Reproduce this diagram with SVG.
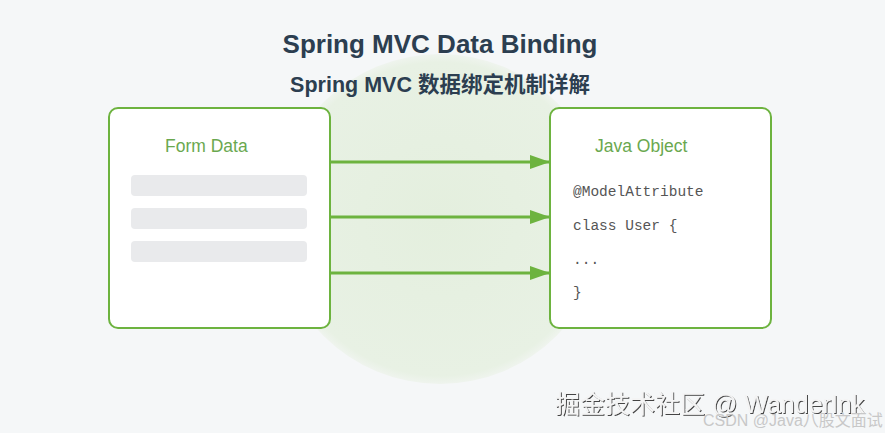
<svg xmlns="http://www.w3.org/2000/svg" width="885" height="433" viewBox="0 0 885 433">
<defs>
<radialGradient id="glow" cx="0.5" cy="0.5" r="0.5">
<stop offset="0" stop-color="#e4efde"/>
<stop offset="0.95" stop-color="#e8f1e4"/>
<stop offset="1" stop-color="#eff4ee"/>
</radialGradient>
<marker id="arrow" viewBox="0 0 20 14" refX="20" refY="7" markerWidth="20" markerHeight="14" markerUnits="userSpaceOnUse" orient="auto">
<path d="M0,0 L20,7 L0,14 Z" fill="#6db33f"/>
</marker>
<filter id="shadow" x="-5%" y="-20%" width="110%" height="140%">
<feDropShadow dx="1" dy="1" stdDeviation="0.6" flood-color="#333" flood-opacity="0.9"/>
</filter>
</defs>
<style>
.title{font-family:"Liberation Sans",Arial,"Noto Sans CJK SC",sans-serif;font-weight:bold;fill:#2c3e50;text-anchor:middle}
.box{fill:#ffffff;stroke:#6db33f;stroke-width:2}
.label{font-family:"Liberation Sans",Arial,sans-serif;font-size:17.5px;fill:#6aa84f}
.bar{fill:#e9eaec}
.code{font-family:"Liberation Mono","Courier New",monospace;font-size:14.5px;fill:#555}
.conn{stroke:#6db33f;stroke-width:3;fill:none}
</style>
<rect width="885" height="433" fill="#f5f7f8"/>
<circle cx="440" cy="219" r="165" fill="url(#glow)"/>
<text class="title" x="440" y="53" font-size="26">Spring MVC Data Binding</text>
<text class="title" x="440" y="92" font-size="21.5">Spring MVC 数据绑定机制详解</text>
<g id="form-data">
<rect class="box" x="109" y="108" width="221" height="220" rx="9"/>
<text class="label" x="165" y="152">Form Data</text>
<rect class="bar" x="131" y="175" width="176" height="21" rx="4"/>
<rect class="bar" x="131" y="208" width="176" height="21" rx="4"/>
<rect class="bar" x="131" y="241" width="176" height="21" rx="4"/>
</g>
<g id="java-object">
<rect class="box" x="550" y="108" width="221" height="220" rx="9"/>
<text class="label" x="595" y="152">Java Object</text>
<text class="code" x="573" y="196">@ModelAttribute</text>
<text class="code" x="573" y="230">class User {</text>
<text class="code" x="573" y="264">...</text>
<text class="code" x="573" y="297">}</text>
</g>
<g id="connectors">
<line class="conn" x1="330" y1="162" x2="550" y2="162" marker-end="url(#arrow)"/>
<line class="conn" x1="330" y1="217" x2="550" y2="217" marker-end="url(#arrow)"/>
<line class="conn" x1="330" y1="273" x2="550" y2="273" marker-end="url(#arrow)"/>
</g>
<text x="555" y="413" font-family="'Liberation Sans','Noto Sans CJK SC',sans-serif" font-size="25" fill="#f4f4f4" filter="url(#shadow)">掘金技术社区 @ WanderInk</text>
<text x="703" y="426" font-family="'Liberation Sans','Noto Sans CJK SC',sans-serif" font-size="16" fill="#c8c8c8">CSDN @Java八股文面试</text>
</svg>
